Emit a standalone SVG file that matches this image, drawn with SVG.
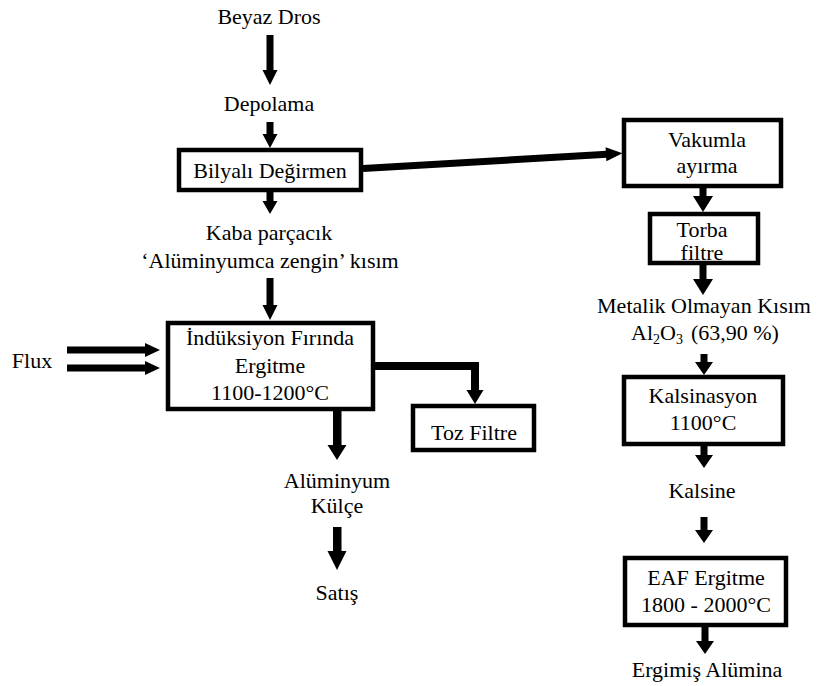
<svg xmlns="http://www.w3.org/2000/svg" width="817" height="686" viewBox="0 0 817 686" font-family="Liberation Serif, DejaVu Serif, serif">
<style>
text{font-size:22px;fill:#000;text-anchor:middle}
.box{fill:#fff;stroke:#000;stroke-width:4.5}
.arr{fill:#000;stroke:none}
</style>
<rect width="817" height="686" fill="#fff"/>
<g id="connectors">
<path class="arr" d="M266.5,35 H273.5 V70 H277.5 L270,85 L262.5,70 H266.5 Z"/>
<path class="arr" d="M266.5,122 H273.5 V134 H277.5 L270,148 L262.5,134 H266.5 Z"/>
<path class="arr" d="M266.5,191 H273.5 V201 H277.5 L270,214 L262.5,201 H266.5 Z"/>
<path class="arr" d="M266.5,278 H273.5 V305 H277.5 L270,320 L262.5,305 H266.5 Z"/>
<path class="arr" d="M333,411 H341.5 V445 H346.5 L337,460 L327.5,445 H333 Z"/>
<path class="arr" d="M333,527 H341.5 V551 H346.5 L337,570 L327.5,551 H333 Z"/>
<path class="arr" d="M67,346.5 H145 V343 L160,350 L145,357 V353.5 H67 Z"/>
<path class="arr" d="M67,364.5 H145 V361 L160,368 L145,375 V371.5 H67 Z"/>
<path class="arr" d="M375,362 H479 V390 H483.5 L475,404 L466.5,390 H471 V370 H375 Z"/>
<line x1="363" y1="168.5" x2="607" y2="154.2" stroke="#000" stroke-width="7"/>
<path class="arr" d="M606.4,161.2 L622.5,153.3 L605.6,147.2 Z"/>
<path class="arr" d="M699.5,188 H706.5 V196 H713 L703,212 L693,196 H699.5 Z"/>
<path class="arr" d="M699.5,265 H706.5 V279 H713 L703,295 L693,279 H699.5 Z"/>
<path class="arr" d="M700.5,354 H707.5 V362 H713 L704,375 L695,362 H700.5 Z"/>
<path class="arr" d="M700.5,446 H707.5 V455 H713 L704,468 L695,455 H700.5 Z"/>
<path class="arr" d="M700.5,517 H707.5 V530 H713 L704,543 L695,530 H700.5 Z"/>
<path class="arr" d="M701.5,627 H708.5 V641 H714 L705,654 L696,641 H701.5 Z"/>
</g>
<g id="beyaz-dros"><text x="269" y="24">Beyaz Dros</text></g>
<g id="depolama"><text x="269" y="111">Depolama</text></g>
<g id="bilyali"><rect class="box" x="179" y="150" width="182" height="40"/><text x="270" y="178">Bilyalı Değirmen</text></g>
<g id="kaba"><text x="269" y="240">Kaba parçacık</text><text x="270" y="268">‘Alüminyumca zengin’ kısım</text></g>
<g id="flux"><text x="32" y="368">Flux</text></g>
<g id="induksiyon"><rect class="box" x="168" y="323" width="205" height="86"/><text x="270" y="345">İndüksiyon Fırında</text><text x="270" y="373">Ergitme</text><text x="270" y="400">1100-1200°C</text></g>
<g id="toz-filtre"><rect class="box" x="413" y="406" width="121" height="44"/><text x="474" y="440">Toz Filtre</text></g>
<g id="aluminyum"><text x="337" y="488">Alüminyum</text><text x="337" y="513">Külçe</text></g>
<g id="satis"><text x="337" y="600">Satış</text></g>
<g id="vakumla"><rect class="box" x="624" y="120" width="157" height="66"/><text x="707" y="147">Vakumla</text><text x="707" y="173">ayırma</text></g>
<g id="torba"><rect class="box" x="650" y="214" width="108" height="49"/><text x="702" y="237">Torba</text><text x="702" y="260">filtre</text></g>
<g id="metalik"><text x="704" y="313">Metalik Olmayan Kısım</text><text x="705" y="340">Al<tspan font-size="14" dy="4">2</tspan><tspan dy="-4">O</tspan><tspan font-size="14" dy="4">3</tspan><tspan dx="8" dy="-4">(63,90 %)</tspan></text></g>
<g id="kalsinasyon"><rect class="box" x="624" y="377" width="159" height="67"/><text x="703" y="403">Kalsinasyon</text><text x="703" y="430">1100°C</text></g>
<g id="kalsine"><text x="702" y="498">Kalsine</text></g>
<g id="eaf"><rect class="box" x="625" y="558" width="161" height="67"/><text x="706" y="585">EAF Ergitme</text><text x="706" y="612">1800 - 2000°C</text></g>
<g id="ergimis"><text x="707" y="677">Ergimiş Alümina</text></g>
</svg>
